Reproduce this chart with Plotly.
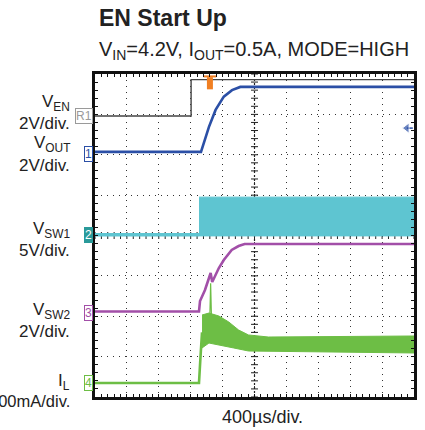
import plotly.graph_objects as go

# ---- data (time in µs, 400 µs/div; vertical position in screen divisions 0..8) ----
t_en = [0, 1205, 1205, 4000]
v_en = [6.96, 6.96, 7.86, 7.86]

t_out = [0, 1329, 1429, 1512, 1615, 1718, 1822, 4000]
v_out = [6.07, 6.07, 6.69, 7.11, 7.44, 7.60, 7.68, 7.68]

t_sw1_base = [0, 1304]
v_sw1_base = [4.02, 4.02]
t_sw1_band = [1304, 4000]
v_sw1_top = [4.95, 4.95]
v_sw1_bot = [3.99, 3.99]

t_sw2 = [0, 1304, 1317, 1379, 1450, 1470, 1553, 1615, 1714, 1801, 1876, 4000]
v_sw2 = [2.118, 2.118, 2.378, 2.650, 3.071, 2.848, 3.195, 3.393, 3.641, 3.740, 3.790, 3.790]

t_il_base = [0, 1304, 1320, 1342]
v_il_base = [0.347, 0.347, 0.90, 1.60]
t_il_up = [1342, 1429, 1553, 1677, 1801, 1925, 2174, 4000]
v_il_up = [2.031, 2.080, 2.006, 1.858, 1.659, 1.536, 1.486, 1.511]
t_il_lo = [1342, 1429, 1553, 1739, 1925, 4000]
v_il_lo = [1.214, 1.337, 1.288, 1.214, 1.139, 1.090]
t_il_spike = [1440, 1450, 1460]
v_il_spike = [2.0, 2.82, 2.0]

channel_tags = [("R1", 6.96), ("1", 6.03), ("2", 4.02), ("3", 2.08), ("4", 0.34)]
label_lines = [
    ("V<sub>EN</sub>", 7.29, 17), ("2V/div.", 6.78, 17),
    ("V<sub>OUT</sub>", 6.26, 17), ("2V/div.", 5.74, 17),
    ("V<sub>SW1</sub>", 4.13, 17), ("5V/div.", 3.64, 17),
    ("V<sub>SW2</sub>", 2.14, 17), ("2V/div.", 1.61, 17),
    ("I<sub>L</sub>", 0.38, 17), ("500mA/div.", -0.10, 16.5),
]

BLUE = "#2B4FA6"
CYAN = "#5EC5D1"
TEAL = "#2A9A9A"
PURPLE = "#A24FA8"
GREEN = "#6DBE45"
FONT = "Liberation Sans, Arial, sans-serif"
NDIV_Y = 8

fig = go.Figure()

# center cross lines with ticks
tick_t = [i * 80 for i in range(51)]
tick_v = [i * 0.2 for i in range(41)]
fig.add_trace(go.Scatter(x=tick_t, y=[4] * len(tick_t), mode="lines+markers",
                         line=dict(color="#222", width=1, dash="2px,2px"),
                         marker=dict(symbol="line-ns", size=5, line=dict(color="#222", width=1)),
                         hoverinfo="skip"))
fig.add_trace(go.Scatter(x=[2000] * len(tick_v), y=tick_v, mode="lines+markers",
                         line=dict(color="#222", width=1.2, dash="2px,2px"),
                         marker=dict(symbol="line-ew", size=5, line=dict(color="#222", width=1)),
                         hoverinfo="skip"))

# EN
fig.add_trace(go.Scatter(x=t_en, y=v_en, mode="lines", line=dict(color="#444", width=1.4)))
# VOUT
fig.add_trace(go.Scatter(x=t_out, y=v_out, mode="lines", line=dict(color=BLUE, width=2.6)))
# SW1
fig.add_trace(go.Scatter(x=t_sw1_base, y=v_sw1_base, mode="lines", line=dict(color=CYAN, width=3.5)))
fig.add_trace(go.Scatter(x=t_sw1_band + t_sw1_band[::-1], y=v_sw1_top + v_sw1_bot[::-1],
                         mode="lines", fill="toself", fillcolor=CYAN, line=dict(color=CYAN, width=1)))
# SW2
fig.add_trace(go.Scatter(x=t_sw2, y=v_sw2, mode="lines", line=dict(color=PURPLE, width=2.6)))
# IL
fig.add_trace(go.Scatter(x=t_il_base, y=v_il_base, mode="lines", line=dict(color=GREEN, width=2.6)))
fig.add_trace(go.Scatter(x=t_il_up + t_il_lo[::-1], y=v_il_up + v_il_lo[::-1],
                         mode="lines", fill="toself", fillcolor=GREEN, line=dict(color=GREEN, width=1)))
fig.add_trace(go.Scatter(x=t_il_spike, y=v_il_spike, mode="lines", line=dict(color=GREEN, width=1.2)))

# trigger level arrow (right) and trigger position (top)
fig.add_trace(go.Scatter(x=[3910, 3985], y=[6.66, 6.66], mode="lines+markers",
                         line=dict(color=BLUE, width=1.5),
                         marker=dict(symbol=["triangle-left", "circle"], size=[9, 0], color=BLUE),
                         cliponaxis=False))
fig.add_trace(go.Scatter(x=[1441, 1441], y=[7.62, 7.92], mode="lines",
                         line=dict(color="#F07F22", width=6), cliponaxis=False))
fig.add_trace(go.Scatter(x=[1441], y=[7.94], mode="markers",
                         marker=dict(symbol="line-ew", size=9, line=dict(color="#F07F22", width=2)),
                         cliponaxis=False))

ann = []
tag_style = {
    "R1": dict(color="#9a9a9a", bg="white", fc="#9a9a9a"),
    "1": dict(color=BLUE, bg="white", fc=BLUE),
    "2": dict(color=TEAL, bg=TEAL, fc="white"),
    "3": dict(color=PURPLE, bg="white", fc=PURPLE),
    "4": dict(color=GREEN, bg="white", fc=GREEN),
}
for name, yv in channel_tags:
    s = tag_style[name]
    ann.append(dict(x=-0.006, xref="paper", y=yv / NDIV_Y, yref="paper", text=name, showarrow=False,
                    xanchor="right", yanchor="middle",
                    font=dict(family=FONT, size=12, color=s["fc"]),
                    bgcolor=s["bg"], bordercolor=s["color"], borderwidth=1, borderpad=0))
for txt, yv, fs in label_lines:
    ann.append(dict(x=-0.0714, xref="paper", y=yv / NDIV_Y, yref="paper", text=txt, showarrow=False,
                    xanchor="right", yanchor="middle",
                    font=dict(family=FONT, size=fs, color="#222")))

ann.append(dict(x=0.006, xref="paper", y=1.173, yref="paper", text="<b>EN Start Up</b>",
                showarrow=False, xanchor="left", yanchor="middle",
                font=dict(family=FONT, size=23, color="#222")))
ann.append(dict(x=0.006, xref="paper", y=1.074, yref="paper",
                text="V<sub>IN</sub>=4.2V, I<sub>OUT</sub>=0.5A, MODE=HIGH",
                showarrow=False, xanchor="left", yanchor="middle",
                font=dict(family=FONT, size=20, color="#222")))
ann.append(dict(x=0.525, xref="paper", y=-0.062, yref="paper", text="400µs/div.",
                showarrow=False, xanchor="center", yanchor="middle",
                font=dict(family=FONT, size=18, color="#222")))

axis_common = dict(showgrid=True, gridcolor="#333", gridwidth=1, griddash="1px,5px",
                   zeroline=False, showline=True, linecolor="#111", linewidth=3,
                   mirror="ticks", ticks="inside", ticklen=3, tickcolor="#111",
                   showticklabels=False, fixedrange=True)

fig.update_layout(
    width=425, height=430,
    margin=dict(l=95, r=8, t=74, b=33),
    paper_bgcolor="white", plot_bgcolor="white",
    showlegend=False,
    hovermode=False,
    annotations=ann,
    xaxis=dict(range=[0, 4000], dtick=400, tick0=0,
               minor=dict(dtick=80, ticks="inside", ticklen=3, tickcolor="#111", showgrid=False),
               **axis_common),
    yaxis=dict(range=[0, NDIV_Y], dtick=1, tick0=0,
               minor=dict(dtick=0.2, ticks="inside", ticklen=3, tickcolor="#111", showgrid=False),
               **axis_common),
)

# remove the default 8px page margin so the figure starts at the window's corner
fig.write_html("out.html", config={"displayModeBar": False},
               post_script="document.body.style.margin='0';document.body.style.overflow='hidden';")
